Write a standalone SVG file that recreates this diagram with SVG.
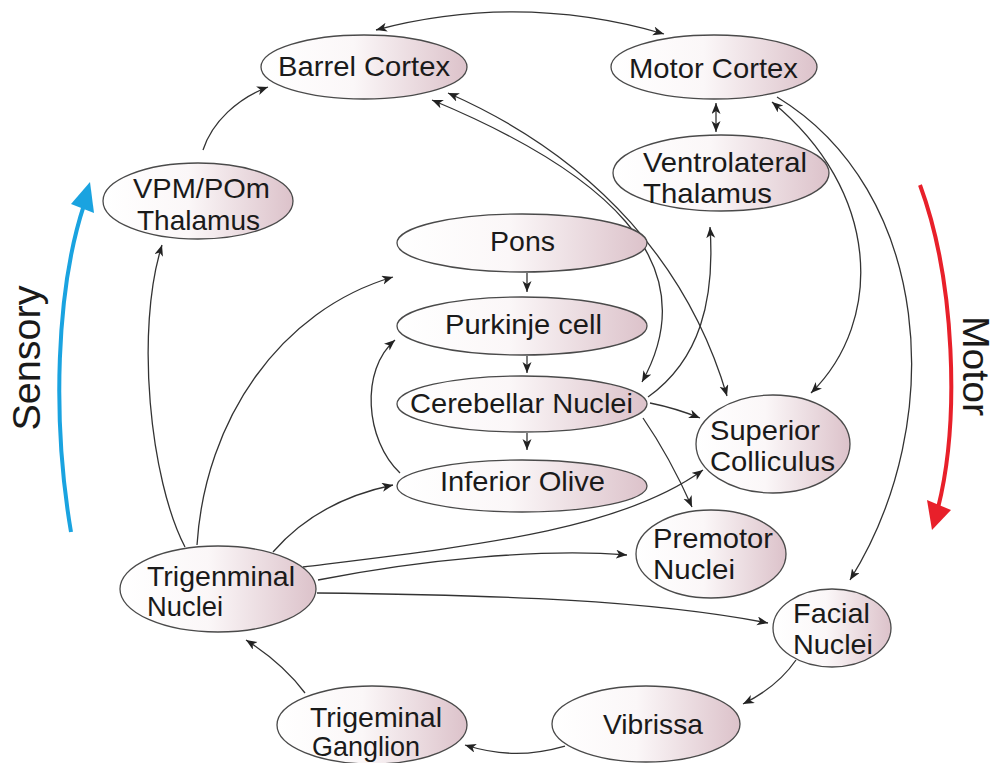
<svg xmlns="http://www.w3.org/2000/svg" width="995" height="763" viewBox="0 0 995 763">
<style>
.node ellipse{fill:url(#g);stroke:#4a4a4a;stroke-width:1.3}
.node text,.lab{font-family:"Liberation Sans",Arial,sans-serif;font-size:28px;fill:#1a1a1a}
.c path{fill:none;stroke:#333;stroke-width:1.3;marker-end:url(#a)}
.c path.bi{marker-start:url(#a)}
</style>
<defs>
<linearGradient id="g" x1="0" y1="0" x2="1" y2="0">
<stop offset="0" stop-color="#ffffff"/>
<stop offset="0.45" stop-color="#fbf7f8"/>
<stop offset="1" stop-color="#dcc2ca"/>
</linearGradient>
<marker id="a" markerUnits="userSpaceOnUse" markerWidth="14" markerHeight="10" refX="11" refY="4.5" orient="auto-start-reverse">
<path d="M0,0 L11,4.5 L0,9 L3,4.5 z" fill="#222"/>
</marker>
</defs>
<rect width="995" height="763" fill="#fff"/>

<g class="c" id="connectors">
<path class="bi" d="M376,30 Q520,-8 664,34"/>
<path d="M203,150 C212,122 238,98 268,87"/>
<path d="M185,547 C150,480 135,330 162,245"/>
<path d="M197,545 C205,420 280,310 393,277"/>
<path d="M273,552 C305,515 345,495 393,485"/>
<path d="M303,567 C480,545 620,530 703,470"/>
<path d="M318,580 C420,560 540,548 627,555"/>
<path d="M317,593 C500,595 650,600 768,623"/>
<path d="M305,693 C290,673 268,654 246,640"/>
<path d="M565,746 C530,756 500,756 465,745"/>
<path d="M796,660 C783,679 765,693 743,704"/>
<path d="M777,97 C930,190 950,420 850,580"/>
<path class="bi" d="M772,102 C880,190 885,320 811,393"/>
<path class="bi" d="M432,100 C600,170 710,260 642,382"/>
<path class="bi" d="M448,93 C600,160 690,270 727,396"/>
<path d="M648,397 C700,360 715,300 710,227"/>
<path class="bi" d="M716,103 L716,132"/>
<path d="M527,273 L527,292"/>
<path d="M527,356 L527,373"/>
<path d="M527,433 L527,450"/>
<path d="M400,473 C365,440 360,370 395,340"/>
<path d="M650,403 Q675,408 700,418"/>
<path d="M643,418 C665,450 680,480 692,507"/>
</g>

<g id="barrel" class="node"><ellipse cx="364" cy="67" rx="103" ry="32"/><text x="278" y="76" textLength="172" lengthAdjust="spacingAndGlyphs">Barrel Cortex</text></g>
<g id="motor" class="node"><ellipse cx="714" cy="67" rx="103" ry="32"/><text x="629" y="78" textLength="169" lengthAdjust="spacingAndGlyphs">Motor Cortex</text></g>
<g id="vl" class="node"><ellipse cx="721" cy="173" rx="108" ry="38"/><text x="643" y="172" textLength="164" lengthAdjust="spacingAndGlyphs">Ventrolateral</text><text x="643" y="203" textLength="129" lengthAdjust="spacingAndGlyphs">Thalamus</text></g>
<g id="vpm" class="node"><ellipse cx="198" cy="201" rx="95" ry="38"/><text x="133" y="198" textLength="137" lengthAdjust="spacingAndGlyphs">VPM/POm</text><text x="137" y="230" textLength="123" lengthAdjust="spacingAndGlyphs">Thalamus</text></g>
<g id="pons" class="node"><ellipse cx="522" cy="243" rx="125" ry="29"/><text x="490" y="251" textLength="65" lengthAdjust="spacingAndGlyphs">Pons</text></g>
<g id="purkinje" class="node"><ellipse cx="522" cy="326" rx="125" ry="29"/><text x="445" y="334" textLength="157" lengthAdjust="spacingAndGlyphs">Purkinje cell</text></g>
<g id="cerebellar" class="node"><ellipse cx="522" cy="404" rx="125" ry="28"/><text x="410" y="413" textLength="223" lengthAdjust="spacingAndGlyphs">Cerebellar Nuclei</text></g>
<g id="olive" class="node"><ellipse cx="522" cy="486" rx="125" ry="26"/><text x="440" y="491" textLength="165" lengthAdjust="spacingAndGlyphs">Inferior Olive</text></g>
<g id="sc" class="node"><ellipse cx="773" cy="444" rx="77" ry="49"/><text x="710" y="440" textLength="110" lengthAdjust="spacingAndGlyphs">Superior</text><text x="710" y="471" textLength="125" lengthAdjust="spacingAndGlyphs">Colliculus</text></g>
<g id="premotor" class="node"><ellipse cx="711" cy="554" rx="75" ry="44"/><text x="653" y="548" textLength="120" lengthAdjust="spacingAndGlyphs">Premotor</text><text x="653" y="579" textLength="82" lengthAdjust="spacingAndGlyphs">Nuclei</text></g>
<g id="trignuc" class="node"><ellipse cx="218" cy="589" rx="98" ry="43"/><text x="147" y="586" textLength="148" lengthAdjust="spacingAndGlyphs">Trigenminal</text><text x="147" y="616" textLength="76" lengthAdjust="spacingAndGlyphs">Nuclei</text></g>
<g id="facial" class="node"><ellipse cx="832" cy="628" rx="59" ry="39"/><text x="793" y="623" textLength="77" lengthAdjust="spacingAndGlyphs">Facial</text><text x="793" y="654" textLength="80" lengthAdjust="spacingAndGlyphs">Nuclei</text></g>
<g id="vibrissa" class="node"><ellipse cx="646" cy="724" rx="94" ry="38"/><text x="603" y="734" textLength="100" lengthAdjust="spacingAndGlyphs">Vibrissa</text></g>
<g id="ganglion" class="node"><ellipse cx="372" cy="725" rx="95" ry="39"/><text x="310" y="727" textLength="132" lengthAdjust="spacingAndGlyphs">Trigeminal</text><text x="312" y="756" textLength="108" lengthAdjust="spacingAndGlyphs">Ganglion</text></g>

<g id="sensory">
<path d="M71,532 C52,420 56,290 84,205" fill="none" stroke="#1aa3e0" stroke-width="4"/>
<path d="M90,182 L94,213 L71,204 z" fill="#1aa3e0"/>
<text class="lab" style="font-size:38px" transform="translate(40,358) rotate(-90)" text-anchor="middle" textLength="145" lengthAdjust="spacingAndGlyphs">Sensory</text>
</g>
<g id="motorlab">
<path d="M920,185 C955,280 960,420 938,508" fill="none" stroke="#e8202a" stroke-width="4"/>
<path d="M932,530 L927,500 L951,510 z" fill="#e8202a"/>
<text class="lab" style="font-size:36px" transform="translate(963,366) rotate(90)" text-anchor="middle" textLength="100" lengthAdjust="spacingAndGlyphs">Motor</text>
</g>
</svg>
